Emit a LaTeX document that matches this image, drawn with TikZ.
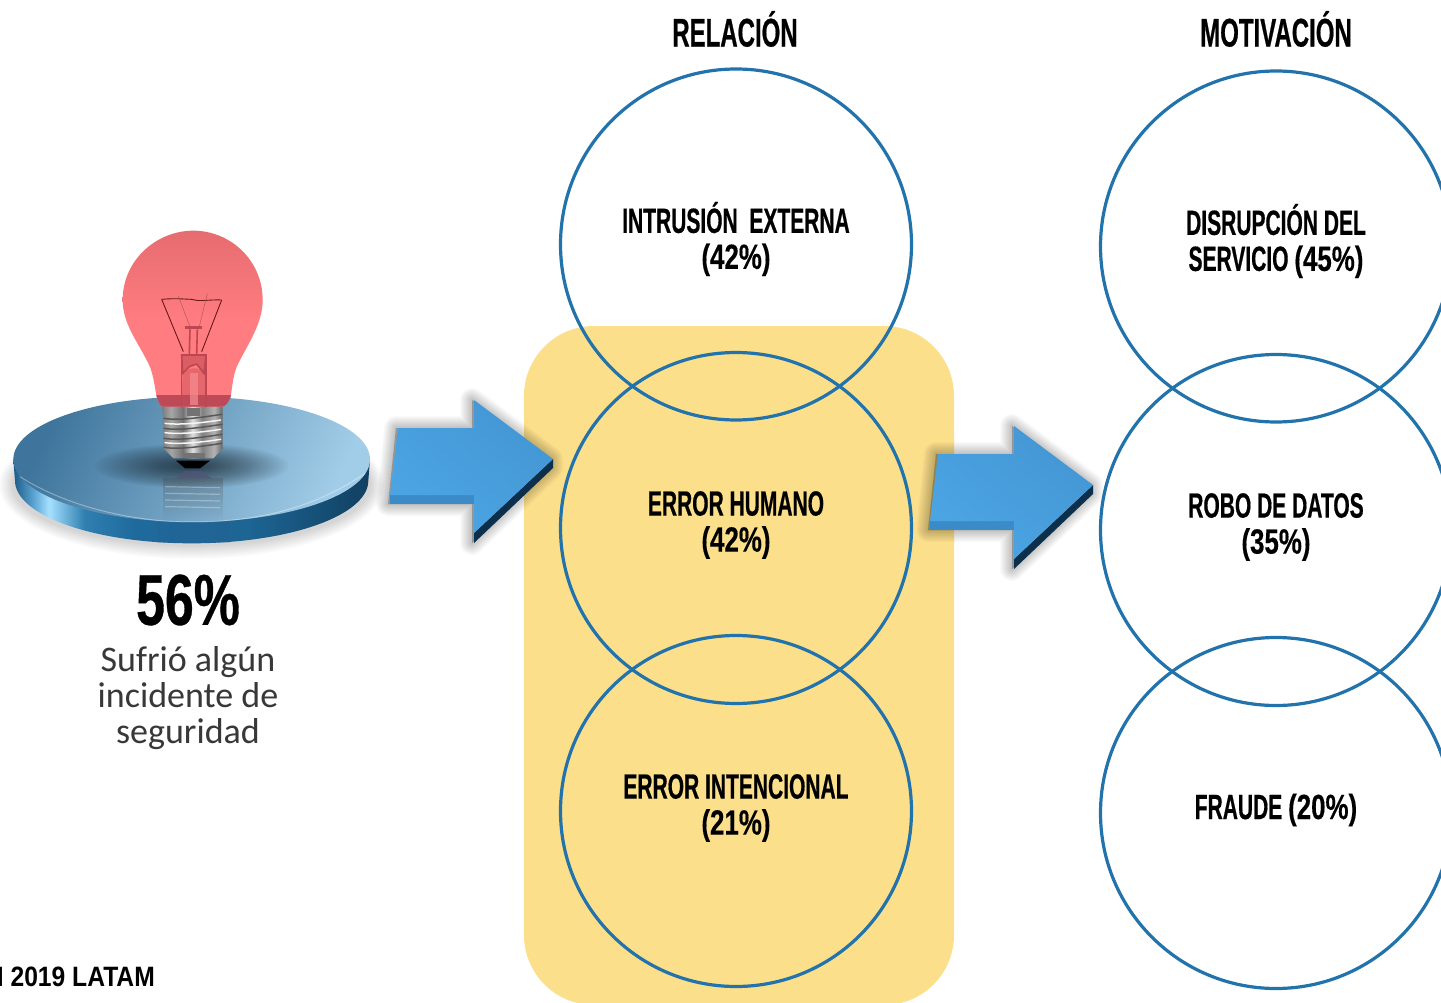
\documentclass[tikz,border=0pt]{standalone}
\usepackage{fontspec}
\usetikzlibrary{shadings}
\setmainfont{Liberation Sans}
\newfontfamily\condfont[FakeStretch=0.6,FakeBold=0.5]{Liberation Sans Bold}
\newfontfamily\numfont[FakeStretch=0.74,FakeBold=0.3]{Liberation Sans Bold}
\newfontfamily\bigfont[FakeStretch=0.72,FakeBold=0.5]{Liberation Sans Bold}
\newfontfamily\footfont[FakeStretch=0.88]{Liberation Sans Bold}
\newfontfamily\capfont{Carlito}
\newcommand{\pctx}[1]{{\numfont #1}}
\definecolor{ringblue}{HTML}{2272AC}
\definecolor{panel}{HTML}{FBDF8B}
\definecolor{rima}{HTML}{1C5A85}\definecolor{rimb}{HTML}{5FA8D6}\definecolor{rimc}{HTML}{A6E0FF}
\definecolor{rimd}{HTML}{2F7FB0}\definecolor{rime}{HTML}{1F6A9D}\definecolor{rimf}{HTML}{1D6593}
\definecolor{rimg}{HTML}{154F76}\definecolor{rimh}{HTML}{123F60}
\definecolor{arrside}{HTML}{3B8BC8}\definecolor{arrlo}{HTML}{4EA8E6}\definecolor{arrhi}{HTML}{4293D0}\definecolor{arrmid}{HTML}{489EDC}
\definecolor{arrdark}{HTML}{0C2F4C}
\definecolor{facedark}{HTML}{3F759C}\definecolor{facelight}{HTML}{A2CDE8}
\definecolor{bulbtop}{HTML}{E66C70}\definecolor{bulbmid}{HTML}{FF7C80}\definecolor{bulbband}{HTML}{BE4A58}
\definecolor{stem}{HTML}{BE4650}\definecolor{stemlight}{HTML}{F58D90}\definecolor{reflband}{HTML}{2A5C8C}
\pgfdeclarehorizontalshading{rimshade}{100bp}{
 color(0bp)=(rima);color(25bp)=(rima);color(28bp)=(rimb);color(30bp)=(rimc);color(35bp)=(rimd);color(42bp)=(rime);color(58bp)=(rimf);color(68bp)=(rimg);color(75bp)=(rimh);color(100bp)=(rimh)}
\pgfdeclarehorizontalshading{screwshade}{100bp}{
 color(0bp)=(gray);color(25bp)=(gray);color(32bp)=(black!35);color(42bp)=(black!55);color(50bp)=(black!12);color(58bp)=(black!50);color(68bp)=(black!30);color(75bp)=(black!60);color(100bp)=(black!60)}
\tikzset{
 ring/.style={circle,draw=ringblue,line width=3.2pt,minimum size=351pt,inner sep=0pt,fill=none},
 bodytext/.style={font=\condfont\fontsize{35}{36}\selectfont,align=center,text=black,inner sep=0pt},
 headtext/.style={font=\condfont\fontsize{40}{44}\selectfont,align=center,text=black,inner sep=0pt},
 softshadow/.style={draw=black,fill=black,opacity=.02,line join=round},
 filamentline/.style={draw=red!35!black!90,line width=.9pt},
 stemline/.style={draw=stem,line width=1.6pt},
 threadlight/.style={draw=white!92!gray,line width=1.5pt,line cap=round},
 threaddark/.style={draw=black!65,line width=1.5pt,line cap=round},
}
\newcommand{\arrowoutline}{(398,428) -- (474,428) -- (474,400) -- (553,459) -- (553,468) -- (474,543) -- (474,504) -- (390,504) -- cycle}
\newcommand{\bulbpath}{(470,560) .. controls (462,520) and (460,490) .. (445,460) .. controls (410,390) and (368,340) .. (368,270) .. controls (368,150) and (470,62) .. (580,62) .. controls (690,62) and (788,150) .. (788,270) .. controls (788,340) and (745,400) .. (715,460) .. controls (700,490) and (698,520) .. (692,560) .. controls (685,580) and (675,590) .. (665,590) -- (490,590) .. controls (480,590) and (475,575) .. (470,560) -- cycle}
\newcommand{\bigarrow}[2]{%
 \begin{scope}[xshift=#1pt,yshift=-#2pt]
  \begin{scope}[xshift=-2pt]
  \foreach \w in {2,4,...,24} {\path[softshadow,line width=\w pt] \arrowoutline;}
  \end{scope}
  \fill[arrdark] (553,459) -- (553,468) -- (474,543) -- (474,533) -- cycle;
  \fill[arrside] (390,495) -- (474,495) -- (474,504) -- (390,504) -- cycle;
  \shade[lower left=arrlo,upper right=arrhi,lower right=arrmid,upper left=arrmid]
    (398,428) -- (474,428) -- (474,400) -- (553,459) -- (474,533) -- (474,495) -- (390,495) -- cycle;
 \end{scope}}
\begin{document}
\begin{tikzpicture}[x=1pt,y=-1pt]
\useasboundingbox (0,0) rectangle (1441,1003);
\clip (0,0) rectangle (1441,1003);
\fill[white] (0,0) rectangle (1441,1003);
% panel
\fill[panel,rounded corners=70pt] (524,326) rectangle (954,1005);
\bigarrow{0}{0}
\node[ring] (r1) at (736,244.5) {};
\node[ring] (r2) at (736,528) {};
\node[ring] (r3) at (736,811) {};
\bigarrow{540}{26}
\node[ring] (m1) at (1276,246.5) {};
\node[ring] (m2) at (1276,530) {};
\node[ring] (m3) at (1276,813) {};
% texts
\node[headtext] (h1) at (735,29) {RELACIÓN};
\node[headtext] (h2) at (1276,29) {MOTIVACIÓN};
\node[bodytext] (t1) at (736,239) {INTRUSIÓN\ \ EXTERNA\\\pctx{(42\%)}};
\node[bodytext] (t2) at (736,525) {ERROR HUMANO\\\pctx{(42\%)}};
\node[bodytext] (t3) at (736,808) {ERROR INTENCIONAL\\\pctx{(21\%)}};
\node[bodytext] (t4) at (1276,241) {DISRUPCIÓN DEL\\SERVICIO \pctx{(45\%)}};
\node[bodytext] (t5) at (1276,527) {ROBO DE DATOS\\\pctx{(35\%)}};
\node[bodytext] (t6) at (1276,810) {FRAUDE \pctx{(20\%)}};
\node[font=\bigfont\fontsize{72}{72}\selectfont,inner sep=0pt] (pct) at (188,600) {56\%};
\node[font=\capfont\fontsize{36}{36}\selectfont,text=black!78,align=center,inner sep=0pt] (cap) at (188,698) {Sufrió algún\\incidente de\\seguridad};
\node[font=\footfont\fontsize{28}{28}\selectfont,anchor=base east,inner sep=0pt] (src) at (155,986) {I 2019 LATAM};
% lamp, in the coordinates of the 3x crop
\begin{scope}[x=.33333pt,y=-.33333pt,yshift=-210pt]
 \foreach \s in {0,6,...,36} {\fill[black,opacity=.022] (575,825) ellipse [x radius=540+\s,y radius=185+\s];}
 % rim
 \shade[shading=rimshade] (40,748) -- (45,812) .. controls (45,916) and (282,1000) .. (575,1000) .. controls (868,1000) and (1105,916) .. (1105,812) -- (1110,748) -- cycle;
 % top face
 \shade[top color=facedark,bottom color=facelight,shading angle=65]
   (575,748) ellipse [x radius=535,y radius=188];
 \draw[white,opacity=.35,line width=1pt] (60,800) .. controls (200,890) and (400,936) .. (575,936) .. controls (780,936) and (950,890) .. (1095,790);
 % dark pool
 \foreach \s in {0,1,...,29} {\fill[black,opacity=.024] (575,768) ellipse [x radius=290-\s*9,y radius=68-\s*2.2];}
 % reflection
 \foreach \y in {805,813,...,925} {\fill[black!70,opacity=.33*(1-(\y-805)/125)] (490,\y) -- (668,\y) -- (668,\y+8) -- (490,\y+8) -- cycle;}
 \foreach \y in {830,850,870,890} {\draw[white,opacity=.3,line width=1.2pt] (495,\y) -- (660,\y+3);}
 \fill[black!60!blue!35!gray,opacity=.75] (528,805) -- (635,805) -- (605,783) -- (555,783) -- cycle;
 \fill[reflband,opacity=.18] (470,935) -- (690,935) -- (690,998) -- (470,998) -- cycle;
 % screw base
 \shade[shading=screwshade] (488,590) -- (668,590) -- (668,715) -- (640,745) -- (520,745) -- (490,715) -- cycle;
 \foreach \y in {625,655,685,712} {\draw[threaddark] (492,\y) .. controls (540,\y+8) and (610,\y-4) .. (666,\y-12);}
 \foreach \y in {640,668,698} {\draw[threadlight] (495,\y) .. controls (540,\y+6) and (610,\y-2) .. (662,\y-10);}
 \fill[black!55] (560,595) -- (600,595) -- (600,618) -- (560,618) -- cycle;
 \fill[black!55] (548,728) -- (615,728) -- (615,745) -- (548,745) -- cycle;
 \fill[black] (528,752) -- (630,752) -- (600,775) -- (555,775) -- cycle;
 % bulb
 \shade[top color=bulbtop,bottom color=bulbmid,middle color=bulbmid] \bulbpath;
 \begin{scope}
  \clip (300,557) rectangle (850,600);
  \fill[bulbband] \bulbpath;
 \end{scope}
 % filament
 \draw[filamentline] (485,268) .. controls (530,264) and (560,268) .. (575,268) .. controls (600,276) and (630,268) .. (665,270);
 \draw[filamentline] (485,268) -- (550,425);
 \draw[filamentline] (665,270) -- (605,425);
 \draw[draw=bulbtop!80!black,line width=.5pt] (535,258) -- (570,350);
 \draw[draw=bulbtop!80!black,line width=.5pt] (622,250) -- (598,350);
 \draw[draw=stem,line width=3pt] (555,353) -- (605,353);
 \draw[stemline] (570,358) -- (568,432);
 \draw[stemline] (592,358) -- (590,432);
 \draw[stemline] (545,435) -- (545,590);
 \draw[stemline] (618,435) -- (618,590);
 \draw[stemline,fill=stem,fill opacity=.55] (545,435) -- (618,435) -- (612,490) -- (590,462) -- (568,470) -- (548,490) -- cycle;
 \fill[stem,opacity=.4] (548,490) .. controls (565,470) and (600,470) .. (615,490) -- (618,558) -- (545,558) -- cycle;
 \fill[stemlight,opacity=.7] (570,490) -- (595,490) -- (595,585) -- (570,585) -- cycle;
\end{scope}
\end{tikzpicture}
\end{document}
